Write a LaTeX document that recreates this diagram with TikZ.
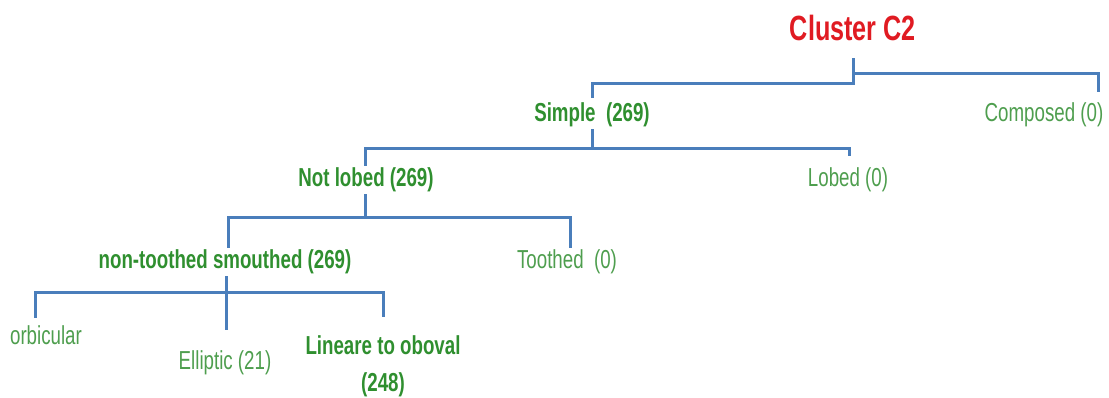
\documentclass[tikz,border=0pt]{standalone}
\usepackage{fontspec}
\setmainfont{Liberation Sans}[FakeStretch=0.72]
\usepackage{tikz}
\usetikzlibrary{positioning, calc}
\definecolor{branchblue}{HTML}{4A7EBB}
\definecolor{leafgreen}{HTML}{4E9E4E}
\definecolor{darkleaf}{HTML}{2F8F2F}
\definecolor{clusterred}{HTML}{E01B22}
\tikzset{
  % tree connectors
  branch/.style={
    draw=branchblue, line width=3pt
  },
  % labels
  boldlbl/.style={
    text=darkleaf, inner sep=2pt,
    font=\fontsize{26}{37}\selectfont\bfseries
  },
  plainlbl/.style={
    text=leafgreen, inner sep=2pt,
    font=\fontsize{26}{37}\selectfont
  },
  titlelbl/.style={
    text=clusterred, inner sep=2pt,
    font=\fontsize{35}{40}\selectfont\bfseries
  }
}

\begin{document}
\begin{tikzpicture}[x=1pt, y=-1pt]
  \useasboundingbox (0,0) rectangle (1109,397);

  % --- Labels ---
  \node[titlelbl] (title) at (853,28) {Cluster C2};
  \node[boldlbl] (simple) at (592,115) {Simple\ \ (269)};
  \node[plainlbl] (composed) at (1044,115) {Composed (0)};
  \node[boldlbl] (notlobed) at (366,180) {Not lobed (269)};
  \node[plainlbl] (lobed) at (848,180) {Lobed (0)};
  \node[boldlbl] (nontoothed) at (225,262) {non-toothed smouthed (269)};
  \node[plainlbl] (toothed) at (567,262) {Toothed\ \ (0)};
  \node[plainlbl] (orbicular) at (46,335) {orbicular};
  \node[plainlbl] (elliptic) at (225,363) {Elliptic (21)};
  \node[boldlbl, align=center] (lineare) at (383,366) {Lineare to oboval\\(248)};

  % --- Cluster split ---
  \draw[branch] ([yshift=-15pt]title.south) -- ++(0,25) coordinate (t0)
    -| ([yshift=3pt]simple.north);
  \draw[branch] ([yshift=-30pt]title.south)
    -| ([xshift=-7pt,yshift=9pt]composed.north east);

  % --- Simple split ---
  \draw[branch] (simple.south) -- ++(0,19) coordinate (s0)
    -| ([xshift=-1pt]notlobed.north)
    (s0) -| ([xshift=1pt,yshift=10pt]lobed.north);

  % --- Not lobed split ---
  \draw[branch] ([xshift=-1pt]notlobed.south) -- ++(0,23) coordinate (l0)
    -| ([xshift=3pt]nontoothed.north)
    (l0) -| ([xshift=3pt]toothed.north);

  % --- Leaf shapes ---
  \draw[branch] ([xshift=1pt]nontoothed.south) -- ++(0,16) coordinate (n0)
    -| ([xshift=-11pt,yshift=5pt]orbicular.north)
    (n0) -| ([yshift=16pt]lineare.north)
    (n0) -- ([xshift=1pt,yshift=19pt]elliptic.north);

\end{tikzpicture}
\end{document}
